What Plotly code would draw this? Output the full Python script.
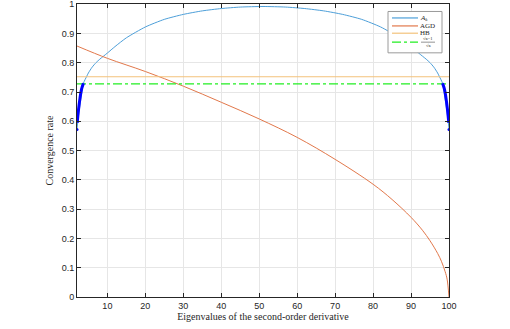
import plotly.graph_objects as go

# A_k curve
ak_x = [2, 2.5, 3, 3.7, 4.5, 5, 6, 7, 8, 10, 12, 15, 20, 25, 30, 35, 40, 45, 51,
        57, 62, 67, 72, 77, 82, 87, 90, 92, 94, 95, 96, 97, 97.5, 98.3, 99, 99.5, 100]
ak_y = [0.575, 0.63, 0.675, 0.73, 0.752, 0.765, 0.785, 0.80, 0.812, 0.833, 0.855, 0.885, 0.922,
        0.948, 0.965, 0.977, 0.985, 0.99, 0.992,
        0.99, 0.985, 0.977, 0.965, 0.948, 0.922, 0.885, 0.855, 0.833, 0.812, 0.80, 0.785,
        0.765, 0.752, 0.73, 0.675, 0.63, 0.575]

# highlighted part of A_k below the sqrt(kappa) line
low_left_x = [2.05, 2.4, 2.8, 3.2, 3.7]
low_left_y = [0.595, 0.64, 0.68, 0.71, 0.73]
low_right_x = [98.3, 98.8, 99.2, 99.6, 99.95]
low_right_y = [0.73, 0.71, 0.68, 0.64, 0.595]
end_x = [2, 100]
end_y = [0.572, 0.572]

agd_x = [2, 10, 20, 30, 40, 50, 60, 70, 80, 85, 90, 93, 95, 97, 98, 99, 99.5, 100]
agd_y = [0.857, 0.815, 0.77, 0.72, 0.665, 0.608, 0.545, 0.47, 0.385, 0.333, 0.272,
         0.228, 0.192, 0.149, 0.122, 0.086, 0.061, 0.0]

hb_y = 0.752
kappa_y = 0.728
x_range = [2, 100]
x_ticks = [10, 20, 30, 40, 50, 60, 70, 80, 90, 100]
y_ticks = [0, 0.1, 0.2, 0.3, 0.4, 0.5, 0.6, 0.7, 0.8, 0.9, 1]
y_labels = ["0", "0.1", "0.2", "0.3", "0.4", "0.5", "0.6", "0.7", "0.8", "0.9", "1"]

C_AK, C_AGD, C_HB, C_K = "#4d9fd9", "#e2784b", "#f3c27b", "#22ee22"
INK = "#262626"

fig = go.Figure()
fig.add_trace(go.Scatter(x=ak_x, y=ak_y, mode="lines", line=dict(color=C_AK, width=1),
                         line_shape="spline", line_smoothing=0.6))
fig.add_trace(go.Scatter(x=agd_x, y=agd_y, mode="lines", line=dict(color=C_AGD, width=1),
                         line_shape="spline"))
fig.add_trace(go.Scatter(x=x_range, y=[hb_y, hb_y], mode="lines", line=dict(color=C_HB, width=1.2)))
fig.add_trace(go.Scatter(x=x_range, y=[kappa_y, kappa_y], mode="lines",
                         line=dict(color=C_K, width=1.2, dash="dashdot")))
for xs, ys in [(low_left_x, low_left_y), (low_right_x, low_right_y)]:
    fig.add_trace(go.Scatter(x=xs, y=ys, mode="lines", line=dict(color="#0000ff", width=3),
                             line_shape="spline"))
fig.add_trace(go.Scatter(x=end_x, y=end_y, mode="markers", marker=dict(color="#0000ff", size=3)))

# hand-made legend (the reference legend is much more compact than plotly's)
L, R, T, B = 388, 442, 10.5, 52
px = lambda v: (v - 77) / 372
py = lambda v: (297 - v) / 294
fig.add_shape(type="rect", xref="paper", yref="paper", x0=px(L), x1=px(R), y0=py(B), y1=py(T),
              line=dict(color="#9a9a9a", width=1), fillcolor="white", layer="above")
rows = [(17, C_AK, "solid", "<i>A<sub>k</sub></i>"), (25, C_AGD, "solid", "AGD"),
        (32.3, C_HB, "solid", "HB"), (41.2, C_K, "dashdot", None)]
for yy, col, dash, label in rows:
    fig.add_shape(type="line", xref="paper", yref="paper", x0=px(392), x1=px(418),
                  y0=py(yy), y1=py(yy), line=dict(color=col, width=1.2, dash=dash), layer="above")
    if label:
        fig.add_annotation(xref="paper", yref="paper", x=px(419), y=py(yy - 0.3), text=label,
                           showarrow=False, xanchor="left", yanchor="middle", borderpad=0,
                           font=dict(family="Liberation Serif", size=7, color=INK))
fig.add_annotation(xref="paper", yref="paper", x=px(428), y=py(41), text="√κ−1",
                   showarrow=False, xanchor="center", yanchor="bottom", borderpad=0,
                   font=dict(family="Liberation Serif", size=4.5, color=INK))
fig.add_annotation(xref="paper", yref="paper", x=px(428), y=py(41.6), text="√κ",
                   showarrow=False, xanchor="center", yanchor="top", borderpad=0,
                   font=dict(family="Liberation Serif", size=4.5, color=INK))
fig.add_shape(type="line", xref="paper", yref="paper", x0=px(421), x1=px(435),
              y0=py(41.3), y1=py(41.3), line=dict(color=INK, width=0.5), layer="above")

axis_common = dict(showline=True, linecolor=INK, linewidth=1, mirror="ticks",
                   ticks="inside", ticklen=4, tickcolor=INK, automargin=False,
                   ticklabeloverflow="allow",
                   showgrid=True, gridcolor="#e6e6e6", zeroline=False,
                   tickfont=dict(family="Liberation Sans", size=9, color=INK))

fig.update_layout(
    width=510, height=329, showlegend=False,
    margin=dict(l=77, r=61, t=4, b=32),
    plot_bgcolor="white", paper_bgcolor="white",
    xaxis=dict(range=x_range, tickvals=x_ticks,
               title=dict(text="Eigenvalues of the second-order derivative", standoff=2,
                          font=dict(family="Liberation Serif", size=10, color=INK)),
               **axis_common),
    yaxis=dict(range=[0, 1.0005], tickvals=y_ticks, ticktext=y_labels,
               title=dict(text="Convergence rate", standoff=6,
                          font=dict(family="Liberation Serif", size=10, color=INK)),
               **axis_common),
)

# page body has an 8px default margin; drop it so the figure sits at the window corner
fig.write_html("out.html", config={"displayModeBar": False},
               post_script="document.body.style.margin='0';")
